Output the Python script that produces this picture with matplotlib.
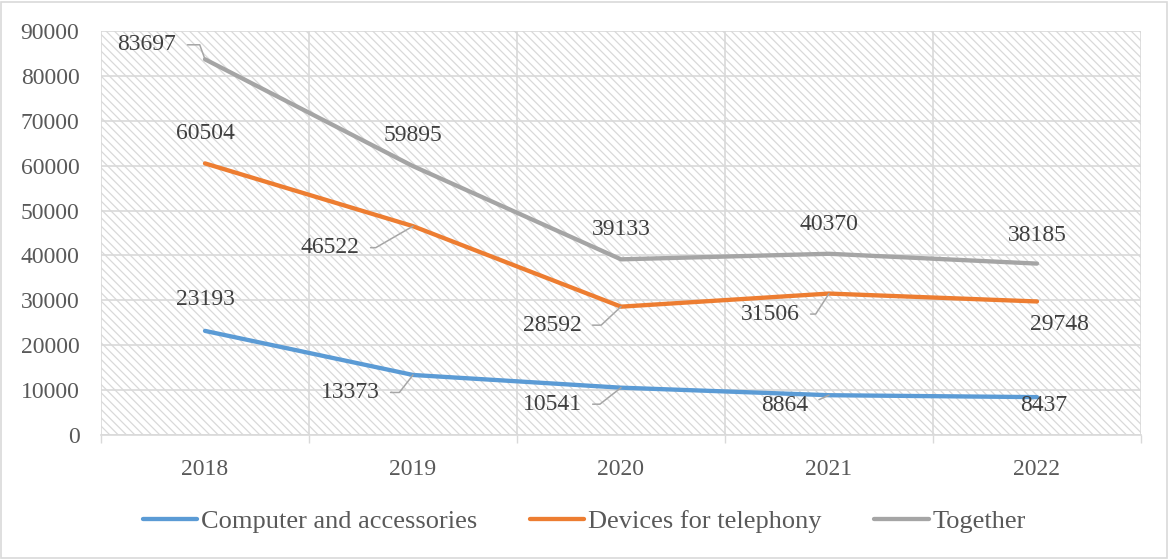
import matplotlib
matplotlib.use("Agg")
import matplotlib.pyplot as plt
from matplotlib.patches import Rectangle

plt.rcParams['font.family'] = ['Liberation Serif', 'DejaVu Serif']
plt.rcParams['hatch.color'] = '#d9d9d9'
plt.rcParams['hatch.linewidth'] = 0.9

years = ['2018', '2019', '2020', '2021', '2022']
computer = [23193, 13373, 10541, 8864, 8437]
telephony = [60504, 46522, 28592, 31506, 29748]
together = [83697, 59895, 39133, 40370, 38185]
series_names = ['Computer and accessories', 'Devices for telephony', 'Together']
y_ticks = [0, 10000, 20000, 30000, 40000, 50000, 60000, 70000, 80000, 90000]

colors = ['#5b9bd5', '#ed7d31', '#a5a5a5']
label_color = '#404040'
tick_color = '#595959'
grid_color = '#d9d9d9'
leader_color = '#a6a6a6'

# label placement per point: (dx, dy) in pixels, leader angle (None = no leader)
placements = {
    'Computer and accessories': [((0, 34), None), ((-63, -15), 52), ((-69, -14), 38),
                                 ((-44, -8), 24), ((7, -6), None)],
    'Devices for telephony': [((0, 32), None), ((-83, -19), 30), ((-69, -16), 43),
                              ((-59, -18), 57), ((22, -21), None)],
    'Together': [((-58, 17), -70), ((0, 33), None), ((0, 32), None),
                 ((0, 32), None), ((0, 31), None)],
}

fig = plt.figure(figsize=(11.69, 5.59), dpi=100)
ax = fig.add_axes([101 / 1169, 1 - 435 / 559, 1040 / 1169, 404 / 559])

# hatched plot-area background
bg = Rectangle((0, 0), 1, 1, transform=ax.transAxes, facecolor='white',
               edgecolor=grid_color, hatch='\\\\\\\\', linewidth=0, zorder=0)
ax.add_patch(bg)

x = list(range(len(years)))
for name, vals, c in zip(series_names, [computer, telephony, together], colors):
    ax.plot(x, vals, color=c, lw=3.1, solid_capstyle='round',
            solid_joinstyle='round', label=name, zorder=3)
    for i, v in enumerate(vals):
        (dx, dy), ang = placements[name][i]
        if ang is None:
            ax.annotate(f'{v}', xy=(i, v), xytext=(dx, dy), textcoords='offset pixels',
                        ha='center', va='center_baseline', fontsize=17,
                        color=label_color, zorder=5)
        else:
            relx = 1 if dx < 0 else 0
            ax.annotate(f'{v}', xy=(i, v), xytext=(dx, dy), textcoords='offset pixels',
                        ha='center', va='center_baseline', fontsize=17,
                        color=label_color, zorder=5,
                        arrowprops=dict(arrowstyle='-', color=leader_color, lw=1.1,
                                        shrinkA=6, shrinkB=0,
                                        relpos=(relx, 0.5),
                                        connectionstyle=f'angle,angleA=0,angleB={ang},rad=0'))

ax.set_xlim(-0.5, len(years) - 0.5)
ax.set_ylim(0, 90000)
ax.set_yticks(y_ticks)
ax.set_yticklabels([str(t) for t in y_ticks])
ax.set_xticks(x)
ax.set_xticklabels(years)
ax.set_xticks([i + 0.5 for i in range(-1, len(years))], minor=True)

ax.tick_params(axis='y', length=0, pad=15.5, labelsize=17, labelcolor=tick_color)
ax.tick_params(axis='x', which='major', length=0, pad=17, labelsize=17, labelcolor=tick_color)
ax.tick_params(axis='x', which='minor', length=6, width=1, color=grid_color)

ax.grid(axis='y', color=grid_color, lw=1.2, zorder=1)
ax.grid(axis='x', which='minor', color=grid_color, lw=1.2, zorder=1)
ax.set_axisbelow(True)
for s in ['top', 'right', 'left']:
    ax.spines[s].set_visible(False)
ax.spines['bottom'].set_color(grid_color)
ax.spines['bottom'].set_linewidth(1.2)

leg = fig.legend(loc='center', bbox_to_anchor=(0.5, 1 - 521 / 559), ncol=3,
                 frameon=False, fontsize=19, handlelength=2.05, handletextpad=0.15,
                 columnspacing=2.0, labelcolor=tick_color)

# outer chart border
fig.add_artist(Rectangle((1 / 1169, 1 / 559), 1 - 3 / 1169, 1 - 3 / 559,
                         transform=fig.transFigure, fill=False,
                         edgecolor=grid_color, lw=1.2))

fig.savefig('out.png', dpi=100, facecolor='white')
